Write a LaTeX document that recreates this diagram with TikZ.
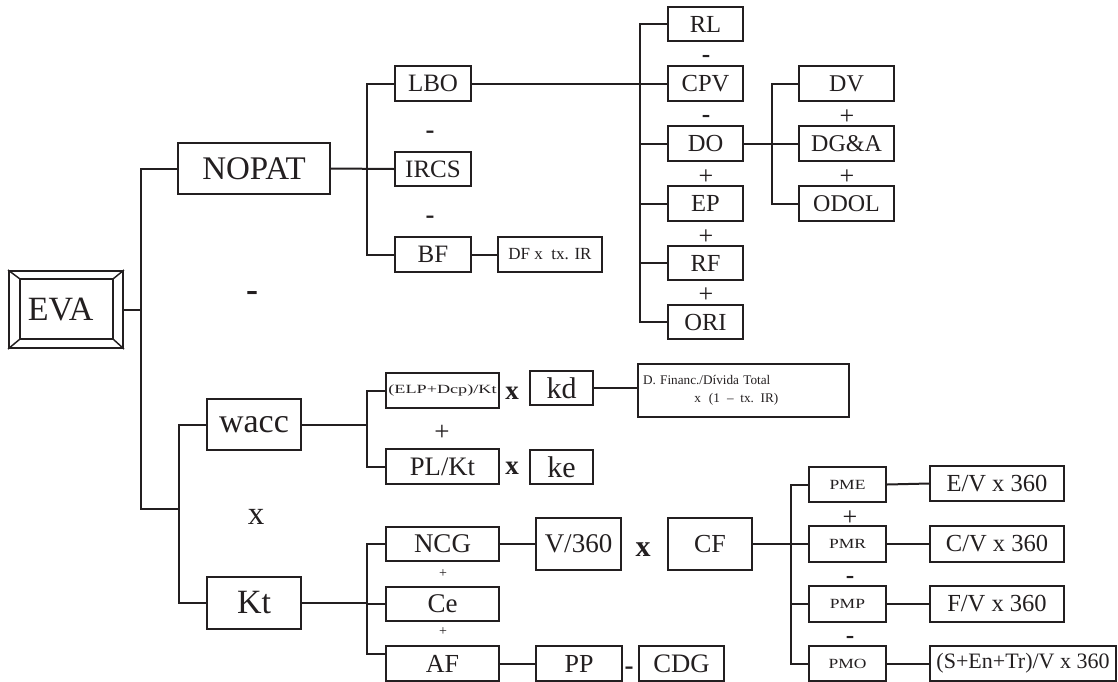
\documentclass[tikz,border=0pt]{standalone}
\usepackage{fontspec}
\setmainfont{Liberation Serif}
\usepackage{graphicx}
\usetikzlibrary{calc}
\definecolor{ink}{RGB}{35,31,32}
\newcommand\sz[1]{\fontsize{#1}{#1}\selectfont}
\newcommand\bx[7]{\node[bx,minimum width={(#4-#2)*0.75pt},minimum height={(#5-#3)*0.75pt},font=#6] (#1) at ({(#2+#4)/2},{(#3+#5)/2}) {#7};}
\begin{document}
\begin{tikzpicture}[x=0.75pt,y=-0.75pt,
  bx/.style={draw=ink,text=ink,line width=1.5pt,inner sep=0pt,rectangle},
  ln/.style={draw=ink,line width=1.5pt},
  op/.style={inner sep=0pt,text=ink},
  hy/.style={inner sep=0pt,text=ink,anchor=base}]
\fill[white] (0,0) rectangle (1118,682);
\useasboundingbox (0,0) rectangle (1118,682);

% EVA
\bx{EVA}{9}{271}{123}{348}{\sz{25.5}}{\hspace*{-8pt}EVA}
\draw[ln,line width=1.1pt] ($(EVA.north west)+(12,9)$) coordinate (i1) rectangle ($(EVA.south east)+(-11,-10)$) coordinate (i3);
\draw[ln,line width=1.1pt] (EVA.north west) -- (i1);
\draw[ln,line width=1.1pt] (EVA.south east) -- (i3);
\draw[ln,line width=1.1pt] (EVA.north east) -- (i3 |- i1);
\draw[ln,line width=1.1pt] (EVA.south west) -- (i1 |- i3);

% level 1
\bx{NOPAT}{178}{143}{330}{194}{\sz{24.75}}{NOPAT}
\bx{wacc}{207}{399}{301}{450}{\sz{25.5}}{wacc}
\bx{Kt}{207}{577}{301}{629}{\sz{25.5}}{Kt}

% NOPAT branch
\bx{LBO}{395}{66}{471}{101}{\sz{18.75}}{LBO}
\bx{IRCS}{395}{152}{471}{186}{\sz{18.75}}{IRCS}
\bx{BF}{395}{237}{471}{272}{\sz{18.75}}{BF}
\bx{DFtx}{498}{237}{602}{272}{\sz{12.75}}{DF x\ \ tx. IR}

\bx{RL}{668}{7}{743}{41}{\sz{18.4}}{RL}
\bx{CPV}{668}{66}{743}{101}{\sz{18.4}}{CPV}
\bx{DO}{668}{126}{743}{161}{\sz{18.4}}{DO}
\bx{EP}{668}{186}{743}{221}{\sz{18.4}}{EP}
\bx{RF}{668}{246}{743}{280}{\sz{18.4}}{RF}
\bx{ORI}{668}{305}{743}{339}{\sz{18.4}}{ORI}

\bx{DV}{799}{66}{894}{101}{\sz{18}}{DV}
\bx{DGA}{799}{126}{894}{161}{\sz{18}}{DG\&A}
\bx{ODOL}{799}{186}{894}{221}{\sz{18}}{ODOL}

% wacc branch
\bx{ELP}{386}{373}{499}{408}{\sz{9.4}}{\scalebox{1.45}[1]{(ELP+Dcp)/Kt}}
\bx{PLKt}{386}{449}{499}{484}{\sz{20}}{PL/Kt}
\bx{kd}{530}{371}{593}{405}{\sz{22.5}}{kd}
\bx{ke}{530}{450}{593}{484}{\sz{22.5}}{ke}
\node[bx,minimum width={211*0.75pt},minimum height={53*0.75pt},text width={201*0.75pt},align=left,font=\fontsize{9.9}{13.5}\selectfont] (DFin) at (743.5,390.5) {D. Financ./Dívida Total\\\hspace*{3.9em}x\hspace{0.6em}(1\hspace{0.55em}–\hspace{0.5em}tx. IR)};

% Kt branch
\bx{NCG}{386}{527}{499}{561}{\sz{20.25}}{NCG}
\bx{Ce}{386}{587}{499}{621}{\sz{20.25}}{Ce}
\bx{AF}{386}{646}{499}{681}{\sz{19.5}}{AF}
\bx{V360}{536}{518}{621}{570}{\sz{20.25}}{V/360}
\bx{CF}{668}{518}{752}{570}{\sz{19.5}}{CF}
\bx{PP}{536}{646}{622}{681}{\sz{19.5}}{PP}
\bx{CDG}{639}{646}{724}{681}{\sz{20}}{CDG}

\bx{PME}{809}{467}{886}{502}{\sz{10.5}}{\scalebox{1.25}[1]{PME}}
\bx{PMR}{809}{526}{886}{562}{\sz{10.5}}{\scalebox{1.25}[1]{PMR}}
\bx{PMP}{809}{586}{886}{622}{\sz{10.5}}{\scalebox{1.25}[1]{PMP}}
\bx{PMO}{809}{646}{886}{681}{\sz{10.5}}{\scalebox{1.25}[1]{PMO}}
\bx{EV}{930}{466}{1064}{501}{\sz{18.4}}{E/V x 360}
\bx{CV}{930}{526}{1064}{562}{\sz{18.4}}{C/V x 360}
\bx{FV}{930}{586}{1064}{622}{\sz{18.4}}{F/V x 360}
\bx{SEn}{930}{646}{1116}{681}{\sz{16.5}}{(S+En+Tr)/V x 360}

% junction coordinates
\coordinate (j1) at (141,509);
\coordinate (j2) at (179,509);
\coordinate (k1) at (367,0);
\coordinate (k2) at (640,0);
\coordinate (k3) at (772,0);
\coordinate (k4) at (791,0);
\coordinate (afj) at (367,654);

% connectors
\draw[ln] (EVA.east) -- (EVA.east -| j1);
\draw[ln] (NOPAT.west) -| (j1) -- (j2);
\draw[ln] (wacc.west) -| (j2) |- (Kt.west);

\draw[ln] (NOPAT.east) -- (IRCS.west);
\draw[ln] (LBO.west) -| (k1 |- BF.west) -- (BF.west);
\draw[ln] (BF.east) -- (DFtx.west);
\draw[ln] (LBO.east) -- (CPV.west);
\draw[ln] (RL.west) -| (k2 |- ORI.west) -- (ORI.west);
\foreach \n in {DO,EP,RF} \draw[ln] (\n.west) -- (\n.west -| k2);
\draw[ln] (DO.east) -- (DGA.west);
\draw[ln] (DV.west) -| (k3 |- ODOL.west) -- (ODOL.west);

\draw[ln] (wacc.east) -- (wacc.east -| k1);
\draw[ln] (ELP.west) -| (k1 |- PLKt.west) -- (PLKt.west);
\draw[ln] (kd.east) -- (kd.east -| DFin.west);

\draw[ln] (Kt.east) -- (Kt.east -| k1);
\draw[ln] (NCG.west) -| (afj) -- (afj -| AF.west);
\draw[ln] (Ce.west) -- (Ce.west -| k1);
\draw[ln] (NCG.east) -- (V360.west);
\draw[ln] (AF.east) -- (PP.west);

\draw[ln] (CF.east) -- (PMR.west);
\draw[ln] (PME.west) -| (k4 |- PMO.west) -- (PMO.west);
\draw[ln] (PMP.west) -- (PMP.west -| k4);
\draw[ln] (PME.east) -- (EV.west);
\draw[ln] (PMR.east) -- (CV.west);
\draw[ln] (PMP.east) -- (FV.west);
\draw[ln] (PMO.east) -- (SEn.west);

% operators
\node[hy,font=\bfseries\sz{27}] (m0) at (252,301) {-};
\node[hy,font=\bfseries\sz{20}] (m1) at (430,138) {-};
\node[hy,font=\bfseries\sz{20}] (m2) at (430,223) {-};
\node[hy,font=\bfseries\sz{19}] (m3) at (706,62.5) {-};
\node[hy,font=\bfseries\sz{19}] (m4) at (706,122.5) {-};
\node[op,font=\sz{19.5}] (p1) at (706,177) {+};
\node[op,font=\sz{19.5}] (p2) at (706,237) {+};
\node[op,font=\sz{19.5}] (p3) at (706,295) {+};
\node[op,font=\sz{19.5}] (p4) at (847,117) {+};
\node[op,font=\sz{19.5}] (p5) at (847,177) {+};
\node[op,font=\sz{24.75}] (x0) at (256,517) {x};
\node[op,font=\bfseries\sz{20.25}] (x1) at (512,393) {x};
\node[op,font=\bfseries\sz{20.25}] (x2) at (512,468) {x};
\node[op,font=\sz{20.25}] (p6) at (442,433) {+};
\node[op,font=\sz{10.5}] (p7) at (443,574) {+};
\node[op,font=\sz{10.5}] (p8) at (443,632) {+};
\node[op,font=\bfseries\sz{22.5}] (x3) at (643,550) {x};
\node[hy,font=\bfseries\sz{20.25}] (m5) at (629,674) {-};
\node[op,font=\sz{19.5}] (p9) at (850,518) {+};
\node[hy,font=\bfseries\sz{19}] (m6) at (850,583.5) {-};
\node[hy,font=\bfseries\sz{19}] (m7) at (850,643.5) {-};
\end{tikzpicture}
\end{document}
